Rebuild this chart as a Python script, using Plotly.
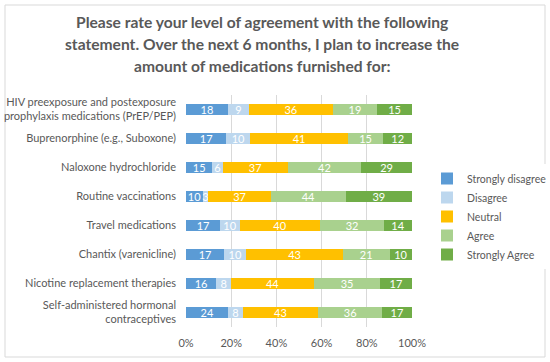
import plotly.graph_objects as go

categories = [
    "HIV preexposure and postexposure<br>prophylaxis medications (PrEP/PEP)",
    "Buprenorphine (e.g., Suboxone)",
    "Naloxone hydrochloride",
    "Routine vaccinations",
    "Travel medications",
    "Chantix (varenicline)",
    "Nicotine replacement therapies",
    "Self-administered hormonal<br>contraceptives",
]
series_names = ["Strongly disagree", "Disagree", "Neutral", "Agree", "Strongly Agree"]
strongly_disagree = [18, 17, 15, 10, 17, 17, 16, 24]
disagree = [9, 10, 6, 3, 10, 10, 8, 8]
neutral = [36, 41, 37, 37, 40, 43, 44, 43]
agree = [19, 15, 42, 44, 32, 21, 35, 36]
strongly_agree = [15, 12, 29, 39, 14, 10, 17, 17]
colors = ["#5B9BD5", "#BDD7EE", "#FFC000", "#A9D18E", "#70AD47"]
x_ticks = [0, 20, 40, 60, 80, 100]
x_tick_labels = ["0%", "20%", "40%", "60%", "80%", "100%"]
title_lines = [
    "Please rate your level of agreement with the following",
    "statement. Over the next 6 months, I plan to increase the",
    "amount of medications furnished for:",
]

FONT = "Lato"
GREY = "#595959"

fig = go.Figure()
for name, vals, col in zip(series_names,
                           [strongly_disagree, disagree, neutral, agree, strongly_agree],
                           colors):
    fig.add_trace(go.Bar(
        y=categories, x=vals, name=name, orientation="h",
        marker=dict(color=col, line=dict(width=0)),
        text=[str(v) for v in vals], textposition="inside", textangle=0,
        insidetextanchor="middle", constraintext="none",
        textfont=dict(color="white", size=11, family=FONT),
        hoverinfo="x+y+name",
    ))

L, R, T, B = 186, 138, 95, 35
W, H = 550, 362
pw, ph = W - L - R, H - T - B

def px_to_paper_x(px):
    return (px - L) / pw

def px_to_paper_y(py):
    return (H - B - py) / ph

annotations = [
    dict(text="<b>%s</b>" % line, xref="paper", yref="paper",
         x=px_to_paper_x(262), y=px_to_paper_y(22 + 22 * i),
         xanchor="center", yanchor="middle", showarrow=False,
         font=dict(size=15.6, color=GREY, family=FONT))
    for i, line in enumerate(title_lines)
]

fig.update_layout(
    width=W, height=H,
    barmode="stack", barnorm="percent", bargap=0.6,
    margin=dict(l=L, r=R, t=T, b=B, autoexpand=False),
    paper_bgcolor="white", plot_bgcolor="white",
    font=dict(family=FONT, color=GREY, size=11),
    annotations=annotations,
    xaxis=dict(range=[0, 100], tickvals=x_ticks, ticktext=x_tick_labels,
               showgrid=True, gridcolor="#D9D9D9", gridwidth=1,
               zeroline=False, showline=False, ticks="", automargin=False,
               tickfont=dict(size=11, color=GREY), ticklabelstandoff=8),
    yaxis=dict(autorange="reversed", showgrid=False, showline=False, ticks="",
               automargin=False,
               tickfont=dict(size=11, color=GREY), ticklabelstandoff=9),
    legend=dict(x=px_to_paper_x(427), xanchor="left",
                y=px_to_paper_y(164), yanchor="top",
                traceorder="normal", font=dict(size=10.5, color=GREY),
                itemwidth=30, tracegroupgap=0),
    shapes=[dict(type="rect", xref="paper", yref="paper",
                 x0=px_to_paper_x(5), x1=px_to_paper_x(545),
                 y0=px_to_paper_y(357), y1=px_to_paper_y(5),
                 line=dict(color="#D9D9D9", width=1), layer="below")],
)

fig.write_html("out.html", config={"displayModeBar": False},
               post_script="document.body.style.margin='0';")
